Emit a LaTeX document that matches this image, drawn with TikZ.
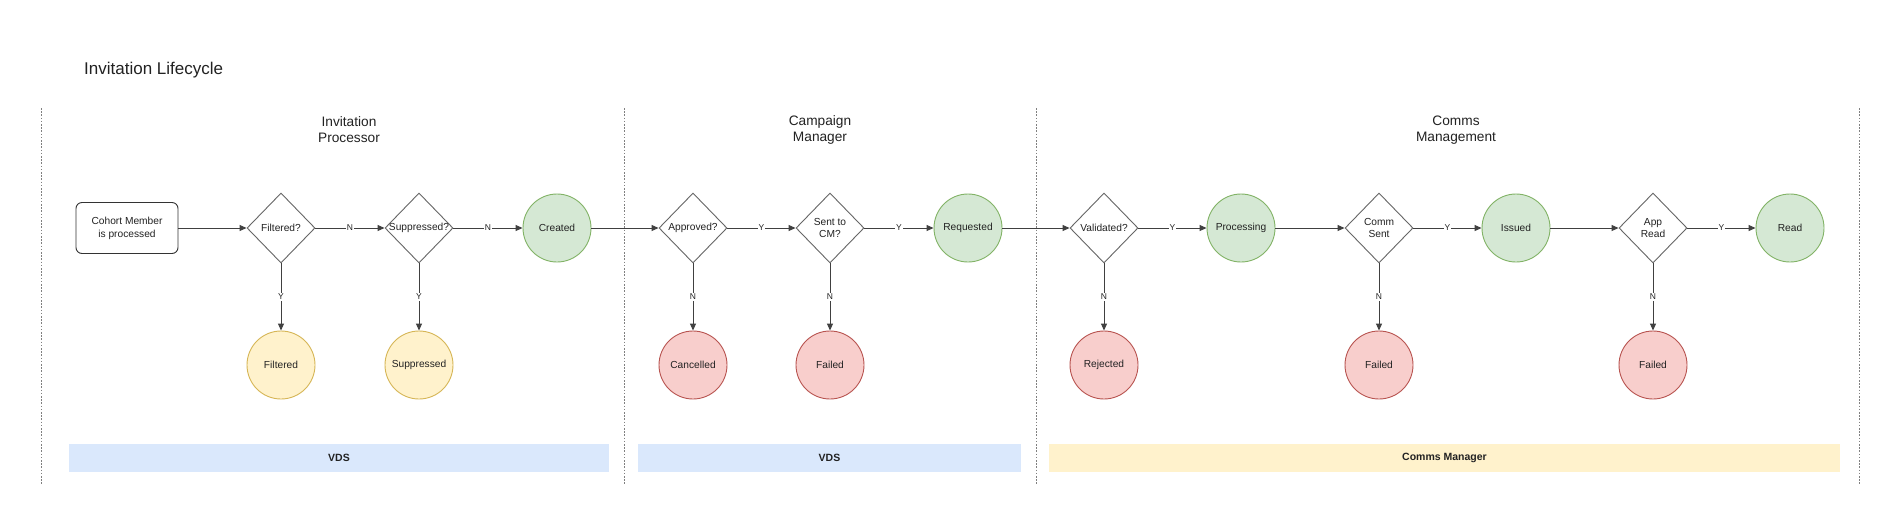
\documentclass[tikz,border=0pt]{standalone}
\usepackage{fontspec}
\setmainfont{Liberation Sans}
\usetikzlibrary{shapes.geometric,arrows.meta}
\definecolor{gfill}{HTML}{D5E8D4}
\definecolor{gline}{HTML}{82B366}
\definecolor{yfill}{HTML}{FFF2CC}
\definecolor{yline}{HTML}{D6B656}
\definecolor{rfill}{HTML}{F8CECC}
\definecolor{rline}{HTML}{B85450}
\definecolor{bband}{HTML}{DAE8FC}
\definecolor{ink}{HTML}{222222}
\newcommand\nfont{\fontsize{10.2}{12.8}\selectfont}
\newcommand\lblfont{\fontsize{8.5}{10}\selectfont}
\newcommand\lanefont{\fontsize{13.7}{16}\selectfont}
\newcommand\ttlfont{\fontsize{17}{20}\selectfont}
\newcommand\bandfont{\fontsize{10.5}{12}\selectfont\bfseries}
\begin{document}
\begin{tikzpicture}[x=1pt,y=-1pt,
  every node/.style={text=ink},
  decbox/.style={diamond, draw=black!60, fill=white, inner sep=0pt,
     minimum width=68pt, minimum height=70pt, line width=0.9pt},
  dtext/.style={label={[font=\nfont, align=center, text=ink]center:#1}},
  state/.style={circle, inner sep=0pt, minimum size=68pt, line width=0.9pt, font=\nfont},
  okstate/.style={state, fill=gfill, draw=gline},
  warnstate/.style={state, fill=yfill, draw=yline},
  badstate/.style={state, fill=rfill, draw=rline},
  startbox/.style={rectangle, rounded corners=6pt, draw=black!80, fill=white, line width=0.9pt,
     minimum width=102pt, minimum height=51pt, inner sep=0pt, align=center, font=\nfont},
  arr/.style={draw=black!75, line width=1pt, -{Triangle[length=7pt,width=6pt]}},
  lbl/.style={fill=white, inner sep=1pt, font=\lblfont},
  lane/.style={draw=black!50, line width=0.8pt, dash pattern=on 1.6pt off 1.6pt},
  band/.style={rectangle, inner sep=0pt, minimum height=28pt, font=\bandfont},
  lanetitle/.style={align=center, font=\lanefont}
]
\fill[white] (0,0) rectangle (1879,512);
\useasboundingbox (0,0) rectangle (1879,512);

% title
\node[anchor=west, inner sep=0pt, font=\ttlfont] (title) at (84,70) {Invitation Lifecycle};

% lanes
\foreach \lx in {41,624,1036,1859} {
  \draw[lane] (\lx,108) -- (\lx,485);
}
\node[lanetitle] (lt1) at (349,130) {Invitation\\Processor};
\node[lanetitle] (lt2) at (820,130) {Campaign\\Manager};
\node[lanetitle] (lt3) at (1456,130) {Comms\\Management};

% bands
\node[band, fill=bband, minimum width=540pt] (b1) at (339,458) {VDS};
\node[band, fill=bband, minimum width=383pt] (b2) at (829.5,458) {VDS};
\node[band, fill=yfill, minimum width=791pt] (b3) at (1444.5,458) {Comms Manager};

% main row
\node[startbox] (cohort) at (127,228) {Cohort Member\\is processed};
\node[decbox, dtext={Filtered?}] (d1) at (281,228) {};
\node[decbox, dtext={Suppressed?}] (d2) at (419,228) {};
\node[okstate] (created) at (557,228) {Created};
\node[decbox, dtext={Approved?}] (d3) at (693,228) {};
\node[decbox, dtext={Sent to\\CM?}] (d4) at (830,228) {};
\node[okstate] (requested) at (968,228) {Requested};
\node[decbox, dtext={Validated?}] (d5) at (1104,228) {};
\node[okstate] (processing) at (1241,228) {Processing};
\node[decbox, dtext={Comm\\Sent}] (d6) at (1379,228) {};
\node[okstate] (issued) at (1516,228) {Issued};
\node[decbox, dtext={App\\Read}] (d7) at (1653,228) {};
\node[okstate] (read) at (1790,228) {Read};

% bottom row
\node[warnstate] (filtered) at (281,365) {Filtered};
\node[warnstate] (suppressed) at (419,365) {Suppressed};
\node[badstate] (cancelled) at (693,365) {Cancelled};
\node[badstate] (failed1) at (830,365) {Failed};
\node[badstate] (rejected) at (1104,365) {Rejected};
\node[badstate] (failed2) at (1379,365) {Failed};
\node[badstate] (failed3) at (1653,365) {Failed};

% horizontal connectors
\draw[arr] (cohort) -- (d1);
\draw[arr] (d1) -- node[lbl] {N} (d2);
\draw[arr] (d2) -- node[lbl] {N} (created);
\draw[arr] (created) -- (d3);
\draw[arr] (d3) -- node[lbl] {Y} (d4);
\draw[arr] (d4) -- node[lbl] {Y} (requested);
\draw[arr] (requested) -- (d5);
\draw[arr] (d5) -- node[lbl] {Y} (processing);
\draw[arr] (processing) -- (d6);
\draw[arr] (d6) -- node[lbl] {Y} (issued);
\draw[arr] (issued) -- (d7);
\draw[arr] (d7) -- node[lbl] {Y} (read);

% vertical connectors
\draw[arr] (d1) -- node[lbl] {Y} (filtered);
\draw[arr] (d2) -- node[lbl] {Y} (suppressed);
\draw[arr] (d3) -- node[lbl] {N} (cancelled);
\draw[arr] (d4) -- node[lbl] {N} (failed1);
\draw[arr] (d5) -- node[lbl] {N} (rejected);
\draw[arr] (d6) -- node[lbl] {N} (failed2);
\draw[arr] (d7) -- node[lbl] {N} (failed3);
\end{tikzpicture}
\end{document}
